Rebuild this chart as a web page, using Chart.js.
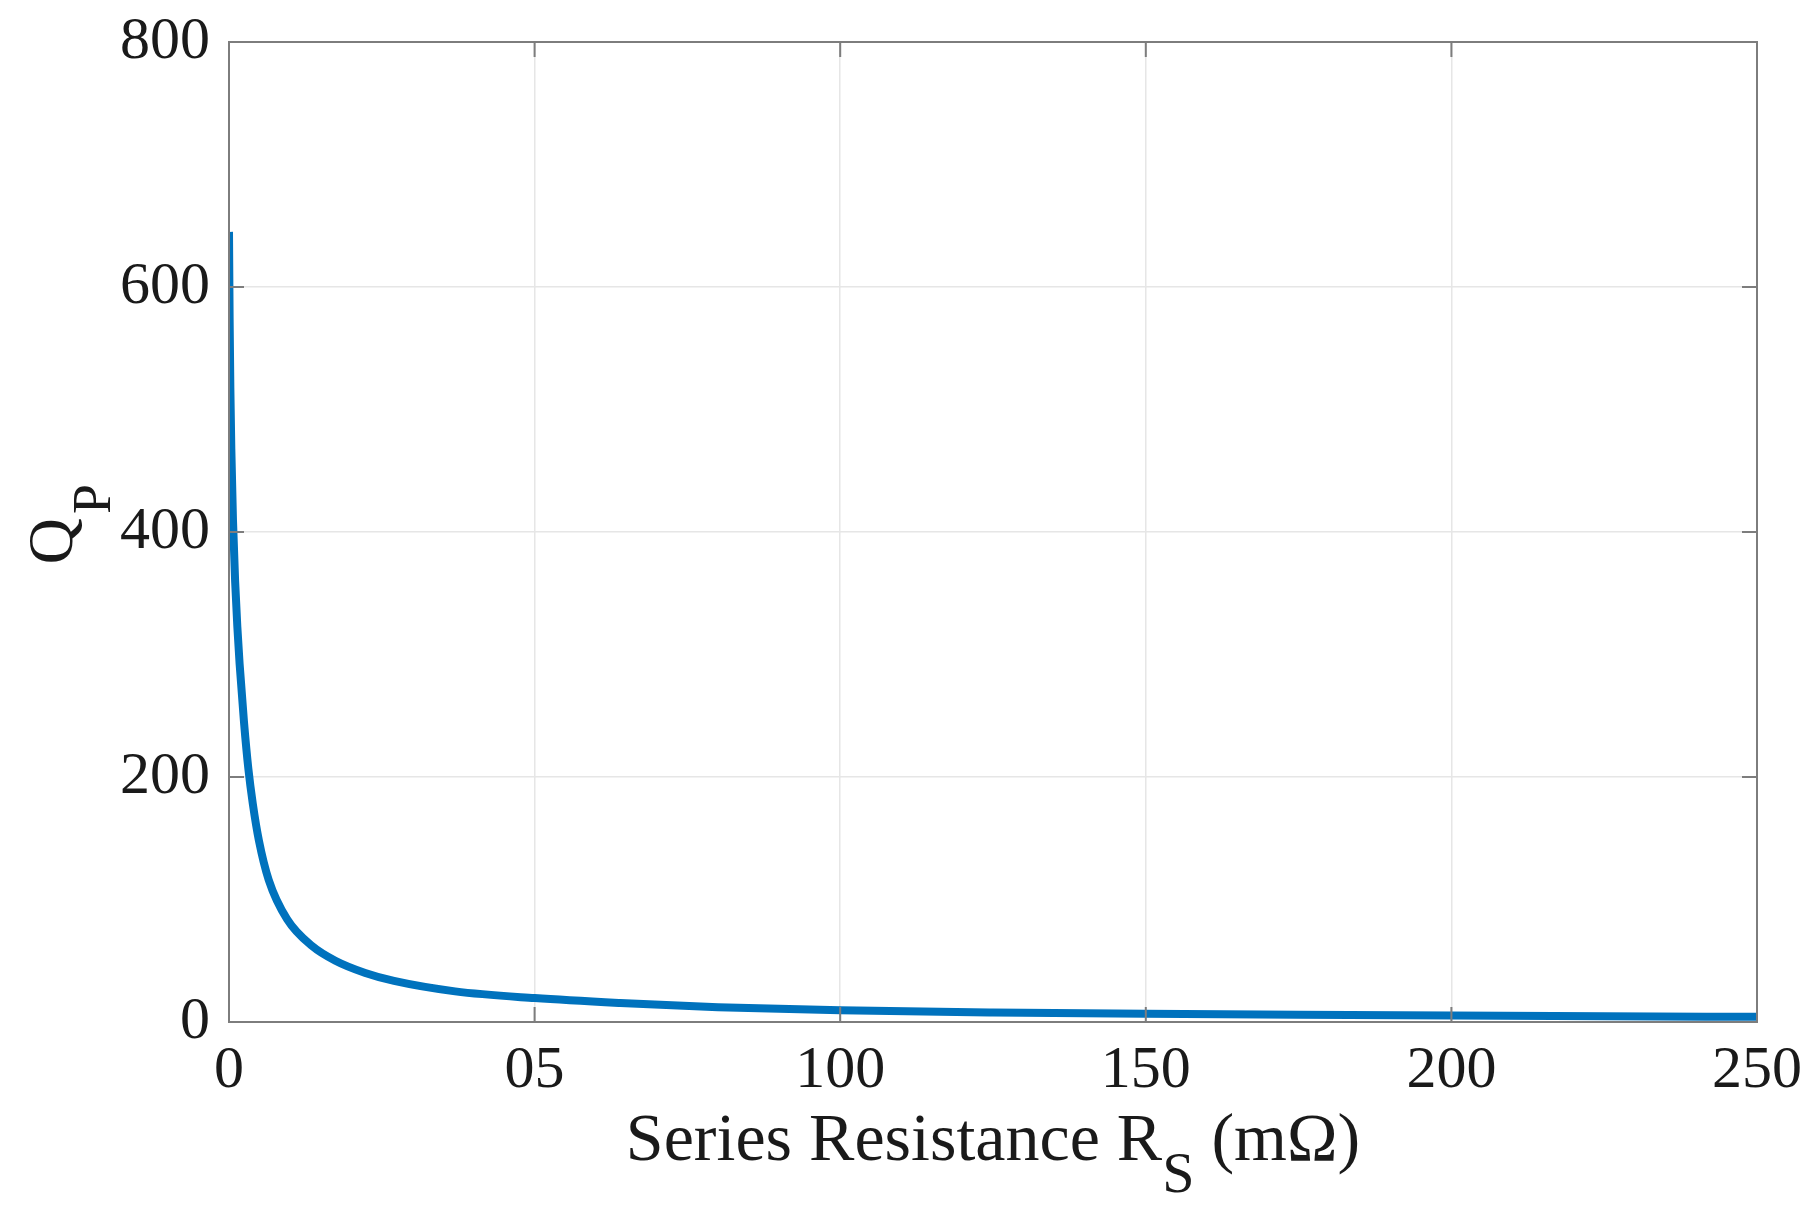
<!DOCTYPE html>
<html>
<head>
<meta charset="utf-8">
<script src="https://cdn.jsdelivr.net/npm/chart.js@4"></script>
<style>
  html, body { margin: 0; padding: 0; background: #ffffff; }
  #wrap { width: 1819px; height: 1206px; }
</style>
</head>
<body>
<div id="wrap"><canvas id="c" width="1819" height="1206"></canvas></div>
<script>
// ---- data ----
const seriesResistance = [0, 0.1, 0.22, 0.38, 0.65, 1.0, 1.36, 1.74, 2.45, 3.16, 3.9, 4.9, 6.5, 9.5, 13.6, 17.4, 22.3, 27, 37, 50, 64, 80, 100, 125, 150, 175, 200, 225, 250];
const qualityFactor   = [645, 575, 518, 468, 410, 360, 323, 292, 245, 207, 178, 148, 116, 84, 62, 50, 40, 33.5, 25, 19.5, 15.5, 12, 9.5, 7.8, 6.8, 6.0, 5.3, 4.7, 4.2];
const xTickValues = [0, 50, 100, 150, 200, 250];
const xTickLabels = ['0', '05', '100', '150', '200', '250'];
const yTickValues = [0, 200, 400, 600, 800];
const yTickLabels = ['0', '200', '400', '600', '800'];

const FONT = '"Liberation Serif", "DejaVu Serif", serif';
const AXIS_COLOR = '#7d7d7d';

const boxAndTitles = {
  id: 'boxAndTitles',
  afterDraw(chart) {
    const ctx = chart.ctx;
    const a = chart.chartArea;
    const xs = chart.scales.x, ys = chart.scales.y;
    ctx.save();
    // box
    ctx.strokeStyle = AXIS_COLOR;
    ctx.lineWidth = 2;
    ctx.strokeRect(a.left, a.top, a.right - a.left, a.bottom - a.top);
    // inward ticks
    const tl = 15;
    ctx.beginPath();
    xTickValues.forEach(v => {
      const px = xs.getPixelForValue(v);
      ctx.moveTo(px, a.bottom); ctx.lineTo(px, a.bottom - tl);
      ctx.moveTo(px, a.top); ctx.lineTo(px, a.top + tl);
    });
    yTickValues.forEach(v => {
      const py = ys.getPixelForValue(v);
      ctx.moveTo(a.left, py); ctx.lineTo(a.left + tl, py);
      ctx.moveTo(a.right, py); ctx.lineTo(a.right - tl, py);
    });
    ctx.stroke();

    // x title: Series Resistance R_S (mΩ)
    ctx.fillStyle = '#1a1a1a';
    ctx.textBaseline = 'alphabetic';
    ctx.textAlign = 'left';
    const mainF = '68px ' + FONT, subF = '58px ' + FONT;
    const p1 = 'Series Resistance R', p2 = 'S', p3 = ' (mΩ)';
    ctx.font = mainF; const w1 = ctx.measureText(p1).width, w3 = ctx.measureText(p3).width;
    ctx.font = subF; const w2 = ctx.measureText(p2).width;
    const total = w1 + w2 + w3;
    let x0 = (a.left + a.right) / 2 - total / 2;
    const base = 1160;
    ctx.font = mainF; ctx.fillText(p1, x0, base);
    ctx.font = subF; ctx.fillText(p2, x0 + w1, base + 32);
    ctx.font = mainF; ctx.fillText(p3, x0 + w1 + w2, base);

    // y title: Q_P rotated
    ctx.save();
    const qF = '64px ' + FONT, pF = '54px ' + FONT;
    ctx.font = qF; const wq = ctx.measureText('Q').width;
    ctx.font = pF; const wp = ctx.measureText('P').width;
    const gap = 4;
    const cy = (a.top + a.bottom) / 2 - 8;
    ctx.translate(72, cy);
    ctx.rotate(-Math.PI / 2);
    const start = -(wq + gap + wp) / 2;
    ctx.font = qF; ctx.fillText('Q', start, 0);
    ctx.font = pF; ctx.fillText('P', start + wq + gap, 38);
    ctx.restore();
    ctx.restore();
  }
};

new Chart(document.getElementById('c'), {
  type: 'line',
  data: {
    datasets: [{
      data: seriesResistance.map((r, i) => ({ x: r, y: qualityFactor[i] })),
      borderColor: '#0072BD',
      borderWidth: 8,
      pointRadius: 0,
      fill: false,
      cubicInterpolationMode: 'monotone'
    }]
  },
  options: {
    responsive: false,
    animation: false,
    devicePixelRatio: 1,
    layout: { padding: { left: 0, right: 62, top: 42, bottom: 0 } },
    plugins: { legend: { display: false }, tooltip: { enabled: false } },
    scales: {
      x: {
        type: 'linear', min: 0, max: 250,
        afterBuildTicks: s => { s.ticks = xTickValues.map(v => ({ value: v })); },
        afterFit: s => { s.height = 1206 - 1022; s.paddingLeft = 0; s.paddingRight = 0; },
        ticks: {
          autoSkip: false, maxRotation: 0, padding: 13,
          color: '#1a1a1a', font: { family: FONT, size: 60 },
          callback: v => xTickLabels[xTickValues.indexOf(v)]
        },
        grid: { color: '#e6e6e6', lineWidth: 1.5, drawTicks: false },
        border: { display: false }
      },
      y: {
        type: 'linear', min: 0, max: 800,
        afterBuildTicks: s => { s.ticks = yTickValues.map(v => ({ value: v })); },
        afterFit: s => { s.width = 229; s.paddingTop = 0; s.paddingBottom = 0; },
        ticks: {
          autoSkip: false, padding: 19,
          color: '#1a1a1a', font: { family: FONT, size: 60 },
          callback: v => yTickLabels[yTickValues.indexOf(v)]
        },
        grid: { color: '#e6e6e6', lineWidth: 1.5, drawTicks: false },
        border: { display: false }
      }
    }
  },
  plugins: [boxAndTitles]
});
</script>
</body>
</html>
